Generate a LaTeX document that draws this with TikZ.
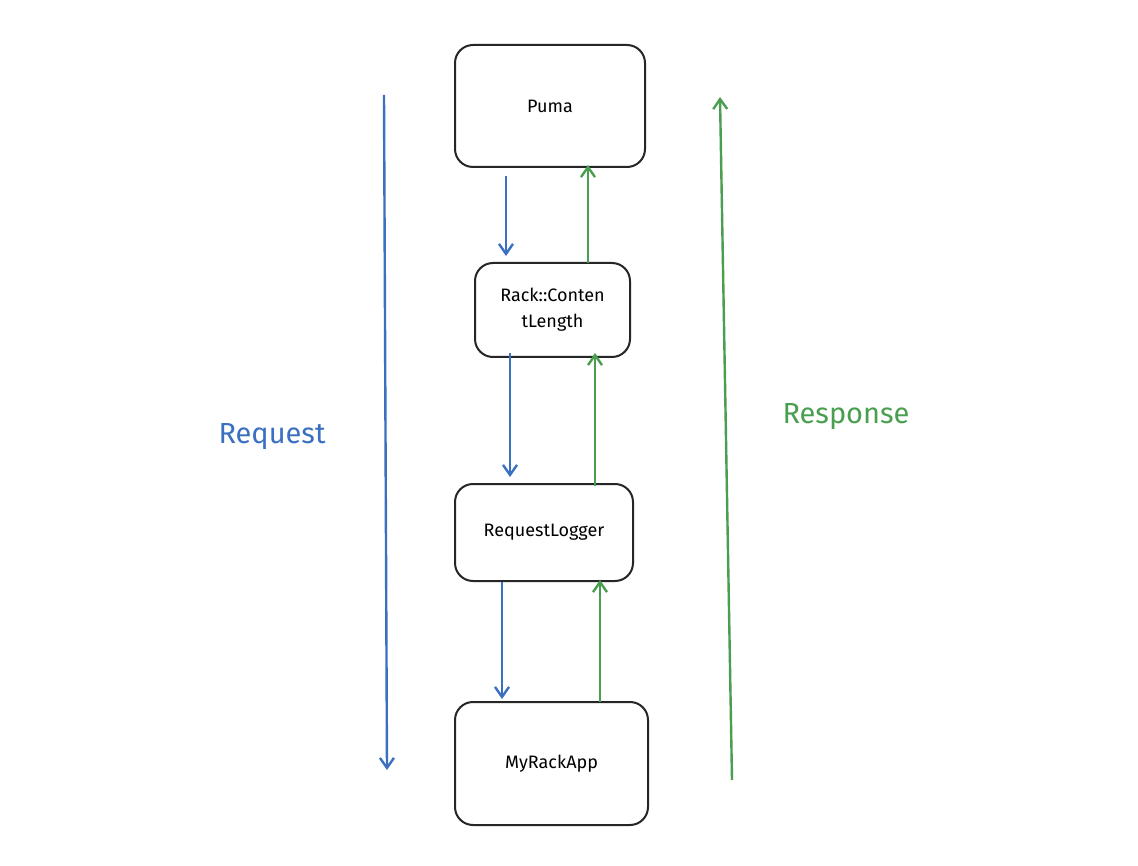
\documentclass[tikz,border=0pt]{standalone}
\usepackage{fontspec}
\setmainfont{Fira Sans}
\usetikzlibrary{arrows.meta}
\definecolor{reqblue}{HTML}{3A70BF}
\definecolor{resgreen}{HTML}{4A9E4F}
\begin{document}
\begin{tikzpicture}[x=1pt,y=-1pt,
  box/.style={draw=black!85,line width=2pt,rounded corners=18pt,inner sep=0pt,font=\fontsize{18}{26}\selectfont\mdseries,align=center},
  req/.style={draw=reqblue,line width=2.4pt,-{Straight Barb[length=10pt,width=14pt]}},
  res/.style={draw=resgreen,line width=2.4pt,-{Straight Barb[length=10pt,width=14pt]}}]
\useasboundingbox[fill=white] (0,0) rectangle (1138,866);
\node[box,minimum width=190pt,minimum height=122pt] (puma) at (550,106) {Puma};
\node[box,minimum width=155pt,minimum height=94pt] (rack) at (552.5,310) {Rack::Conten\\tLength};
\node[box,minimum width=178pt,minimum height=97pt] (logger) at (544,532.5) {RequestLogger};
\node[box,minimum width=193pt,minimum height=123pt] (app) at (551.5,763.5) {MyRackApp};
\draw[req] ([xshift=-44pt,yshift=-8pt]puma.south) -- ([xshift=-46.5pt,yshift=6pt]rack.north);
\draw[req] ([xshift=-42.5pt,yshift=5pt]rack.south) -- ([xshift=-34pt,yshift=6pt]logger.north);
\draw[req] ([xshift=-42pt]logger.south) -- ([xshift=-49.5pt,yshift=2pt]app.north);
\draw[res] ([xshift=35.5pt,yshift=-1pt]rack.north) -- ([xshift=38pt,yshift=3pt]puma.south);
\draw[res] ([xshift=51pt,yshift=-3pt]logger.north) -- ([xshift=42.5pt,yshift=5pt]rack.south);
\draw[res] ([xshift=48.5pt,yshift=-1pt]app.north) -- ([xshift=56pt,yshift=2pt]logger.south);
\coordinate (rq1) at (384,95); \coordinate (rq2) at (387,770);
\coordinate (rs1) at (732,780); \coordinate (rs2) at (720,97);
\draw[req] (rq1) -- (rq2);
\draw[res] (rs1) -- (rs2);
\node[text=reqblue,font=\fontsize{29}{34}\selectfont] (reqlabel) at (272,437) {Request};
\node[text=resgreen,font=\fontsize{29}{34}\selectfont] (reslabel) at (846,417) {Response};
\end{tikzpicture}
\end{document}
